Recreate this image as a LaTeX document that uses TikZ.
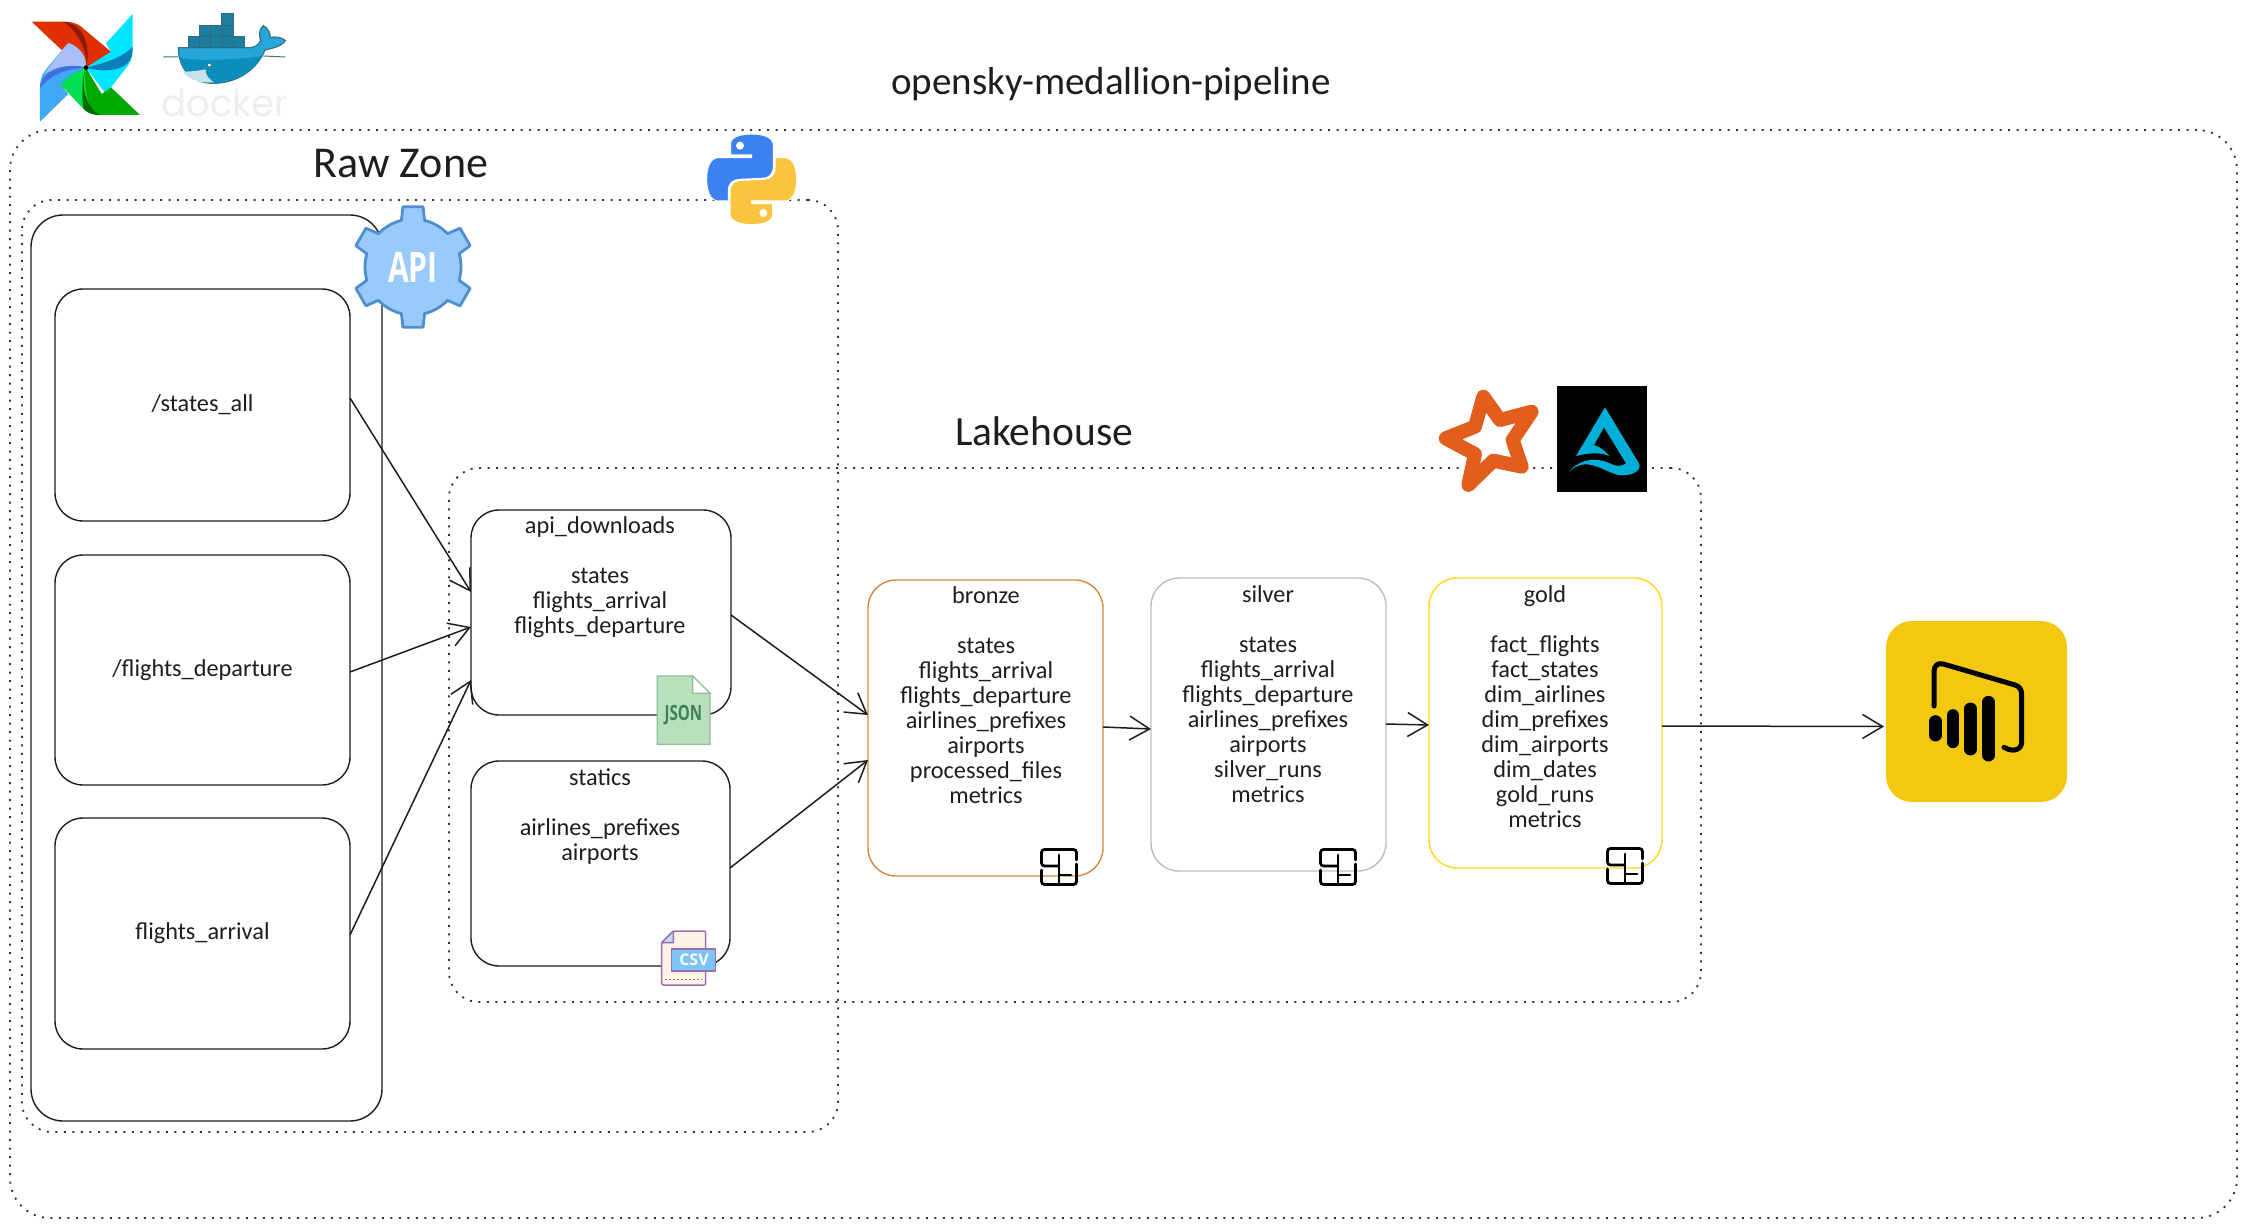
\documentclass[tikz,border=0pt]{standalone}
\usepackage{fontspec}
\usepackage{graphicx}
\setmainfont{Carlito}
\newfontfamily\dockerfont{Poppins}
\newfontfamily\iconfont{Open Sans}
\usetikzlibrary{arrows.meta}
\definecolor{ink}{HTML}{1E1E1E}
\definecolor{dotc}{HTML}{333333}
\definecolor{bronzec}{HTML}{D08A3E}
\definecolor{silverc}{HTML}{BDBDBD}
\definecolor{goldc}{HTML}{FFD91A}
\definecolor{pbic}{HTML}{F2C811}
\definecolor{apifill}{HTML}{99CBFA}
\definecolor{apiline}{HTML}{4F8FCF}
\definecolor{pyblue}{HTML}{3B82F0}
\definecolor{pyyellow}{HTML}{F9C440}
\definecolor{starc}{HTML}{E35E1C}
\definecolor{deltac}{HTML}{00AFD7}
\definecolor{jsonfill}{HTML}{B9E0BC}
\definecolor{jsonline}{HTML}{8FBF9A}
\definecolor{jsontext}{HTML}{3F7F5A}
\definecolor{csvline}{HTML}{9B6FB0}
\definecolor{csvpage}{HTML}{FDF3E7}
\definecolor{csvblue}{HTML}{7CC4F5}
\definecolor{csvcorner}{HTML}{BFDDF5}
\definecolor{afblue}{RGB}{63,169,245}
\definecolor{aflav}{RGB}{169,190,250}
\definecolor{afdblue}{RGB}{63,111,224}
\definecolor{afred}{RGB}{224,47,2}
\definecolor{afdred}{RGB}{138,27,0}
\definecolor{afcyan}{RGB}{0,229,255}
\definecolor{afdcyan}{RGB}{13,127,184}
\definecolor{afgreen}{RGB}{0,168,0}
\definecolor{aflgreen}{RGB}{0,224,80}
\definecolor{afdgreen}{RGB}{0,110,0}
\definecolor{dkline}{RGB}{58,111,132}
\definecolor{dkhull}{RGB}{37,167,217}
\definecolor{dkdeep}{RGB}{13,141,187}
\definecolor{dkbelly}{RGB}{199,227,232}
\definecolor{dkbox}{RGB}{29,127,159}
\definecolor{dkboxl}{RGB}{45,107,130}
\definecolor{dkword}{RGB}{238,238,238}
\tikzset{
  frame/.style={draw=dotc,line width=1.8pt,dash pattern=on 2pt off 6.5pt,rounded corners=30pt,inner sep=0pt,outer sep=0pt},
  box/.style={draw=ink,line width=1.4pt,rounded corners=28pt,inner sep=0pt,outer sep=0pt,font=\fontsize{24.3}{25}\selectfont,text=ink,align=center},
  boxtext/.style={anchor=north,inner sep=0pt,font=\fontsize{24.3}{25}\selectfont,text=ink,align=center},
  heading/.style={inner sep=0pt,text=ink},
  arr/.style={draw=ink,line width=1.5pt,-{Straight Barb[length=20pt,width=24pt,line width=1.5pt]}},
  dkcrate/.style={fill=dkbox,draw=dkboxl,line width=1pt},
  tablepic/.pic={
    \draw[black,line width=2.8pt,rounded corners=3pt,line cap=round]
      (17.5,-7) -- (17.5,-17.5) -- (-17.5,-17.5) -- (-17.5,-1) -- (0,-1);
    \draw[black,line width=2.8pt,rounded corners=3pt,line cap=round]
      (-17.5,3) -- (-17.5,17.5) -- (17.5,17.5) -- (17.5,-3);
    \draw[black,line width=2.8pt,line cap=round] (0,-12) -- (0,17.5) (0,8) -- (12,8);
  }
}
\newcommand{\pysnake}{(152,70) .. controls (152,50) and (185,42) .. (215,42) .. controls (250,42) and (280,52) .. (280,75) -- (280,140) .. controls (280,165) and (265,175) .. (245,175) -- (178,178) .. controls (158,180) and (145,190) .. (145,212) -- (145,243) -- (115,243) .. controls (90,243) and (80,210) .. (80,178) .. controls (80,140) and (92,113) .. (115,113) -- (215,113) -- (215,105) -- (152,105) -- cycle}
\begin{document}
\begin{tikzpicture}[x=1pt,y=-1pt]
\useasboundingbox (0,0) rectangle (2247,1228);
\fill[white] (0,0) rectangle (2247,1228);

% frames
\node[frame,minimum width=2227pt,minimum height=1088pt,rounded corners=40pt] (outer) at (1123.5,674) {};
\node[frame,minimum width=816pt,minimum height=932pt] (rawzone) at (430,666) {};
\node[frame,minimum width=1252pt,minimum height=534pt] (lakehouse) at (1075,735) {};

% headings
\node[heading,font=\fontsize{39}{42}\selectfont] (title) at (1111,84) {opensky-medallion-pipeline};
\node[heading,font=\fontsize{44}{46}\selectfont] (rawtitle) at (401,164) {Raw Zone};
\node[heading,font=\fontsize{41.5}{44}\selectfont] (laketitle) at (1044,431) {Lakehouse};

% boxes
\node[box,minimum width=351pt,minimum height=906pt,rounded corners=32pt] (source) at (206.5,668) {};
\node[box,minimum width=295pt,minimum height=232pt] (e1) at (202.5,405) {/states\_all};
\node[box,minimum width=295pt,minimum height=230pt] (e2) at (202.5,670) {/flights\_departure};
\node[box,minimum width=295pt,minimum height=231pt] (e3) at (202.5,933.5) {flights\_arrival};
\node[box,minimum width=260pt,minimum height=205pt] (api) at (601,612.5) {};
\node[box,minimum width=259pt,minimum height=205pt] (statics) at (600.5,863.5) {};
\node[box,draw=bronzec,minimum width=235pt,minimum height=296pt] (bronze) at (985.5,728) {};
\node[box,draw=silverc,minimum width=235pt,minimum height=293pt] (silver) at (1268.5,724.5) {};
\node[box,draw=goldc,minimum width=233pt,minimum height=290pt] (gold) at (1545.5,723) {};
\node[draw=none,fill=pbic,minimum width=181pt,minimum height=181pt,rounded corners=26pt,inner sep=0pt,outer sep=0pt] (pbi) at (1976.5,711.5) {};

% box texts
\node[boxtext] (apitext) at (600,516.5) {api\_downloads\\[25pt]states\\flights\_arrival\\flights\_departure};
\node[boxtext] (staticstext) at (600,768.5) {statics\\[25pt]airlines\_prefixes\\airports};
\node[boxtext] (bronzetext) at (986,586.5) {bronze\\[25pt]states\\flights\_arrival\\flights\_departure\\airlines\_prefixes\\airports\\processed\_files\\metrics};
\node[boxtext] (silvertext) at (1268,585.5) {silver\\[25pt]states\\flights\_arrival\\flights\_departure\\airlines\_prefixes\\airports\\silver\_runs\\metrics};
\node[boxtext] (goldtext) at (1545,585.5) {gold\\[25pt]fact\_flights\\fact\_states\\dim\_airlines\\dim\_prefixes\\dim\_airports\\dim\_dates\\gold\_runs\\metrics};

% connectors
\draw[arr] ([yshift=7pt]e1.east) -- ([yshift=20.5pt]api.west);
\draw[arr] ([yshift=-2pt]e2.east) -- ([yshift=-14.5pt]api.west);
\draw[arr] ([yshift=-1.5pt]e3.east) -- ([yshift=-67.5pt]api.west);
\draw[arr] ([yshift=-2.5pt]api.east) -- ([yshift=13pt]bronze.west);
\draw[arr] ([yshift=-4.5pt]statics.east) -- ([yshift=-32pt]bronze.west);
\draw[arr] ([yshift=1pt]bronze.east) -- ([yshift=-4.5pt]silver.west);
\draw[arr] ([yshift=0.5pt]silver.east) -- ([yshift=-2pt]gold.west);
\draw[arr] ([yshift=-3pt]gold.east) -- ([yshift=-15pt,xshift=-2pt]pbi.west);

% table icons
\pic at (1059,867) {tablepic};
\pic at (1338,867) {tablepic};
\pic at (1625,866) {tablepic};

% airflow pinwheel
\begin{scope}[scale=1/3]
\fill[afblue] (120,365) -- (120,265) .. controls (120,240) and (125,225) .. (135,212) -- (205,128) -- (258,203) -- (183,255) -- (205,282) -- cycle;
\fill[aflav] (205,128) .. controls (240,135) and (265,170) .. (258,203) .. controls (220,190) and (170,200) .. (132,222) -- cycle;
\fill[afdblue] (120,265) .. controls (120,215) and (190,185) .. (258,203) .. controls (200,205) and (150,225) .. (120,265) -- cycle;
\fill[afred] (95,65) -- (190,65) .. controls (225,65) and (240,75) .. (255,90) -- (333,155) -- (305,190) -- (258,203) .. controls (262,170) and (240,140) .. (205,128) -- (185,150) -- cycle;
\fill[afdred] (190,65) .. controls (245,70) and (275,130) .. (258,203) .. controls (265,150) and (230,90) .. (190,65) -- cycle;
\fill[afcyan] (398,42) -- (398,140) .. controls (400,180) and (385,195) .. (375,208) -- (318,282) -- (258,203) -- (333,155) -- (318,130) -- cycle;
\fill[afdcyan] (398,140) .. controls (365,175) and (310,190) .. (258,203) .. controls (310,218) and (385,215) .. (396,165) -- cycle;
\fill[afgreen] (420,345) -- (300,345) .. controls (270,345) and (255,330) .. (240,315) -- (183,255) .. controls (205,225) and (235,215) .. (258,203) -- (305,282) -- (333,262) -- cycle;
\fill[aflgreen] (183,255) .. controls (205,225) and (235,215) .. (258,203) .. controls (250,250) and (260,300) .. (275,338) .. controls (255,330) and (245,320) .. (240,315) -- cycle;
\fill[afdgreen] (258,203) .. controls (240,260) and (260,325) .. (300,345) .. controls (275,345) and (255,335) .. (250,325) .. controls (245,280) and (245,240) .. (258,203) -- cycle;
\fill[black] (258,203) circle (7);
\end{scope}

% docker
\begin{scope}[scale=1/3]
\draw[dkline,line width=1pt] (490,171) -- (535,171) (790,168) -- (856,171);
\path[fill=dkhull,draw=dkline,line width=1.2pt] (535,143) -- (738,143) .. controls (755,145) and (775,140) .. (782,122) .. controls (775,100) and (780,85) .. (790,77) .. controls (805,85) and (812,100) .. (810,112) .. controls (830,108) and (850,115) .. (856,122) .. controls (845,140) and (815,145) .. (795,150) .. controls (770,210) and (710,250) .. (640,250) .. controls (570,250) and (535,200) .. (535,143) -- cycle;
\fill[dkdeep] (538,172) .. controls (600,185) and (700,180) .. (786,168) .. controls (760,215) and (710,248) .. (640,248) .. controls (575,248) and (545,215) .. (538,172) -- cycle;
\fill[dkbelly] (548,215) .. controls (570,215) and (600,212) .. (617,208) .. controls (615,225) and (630,240) .. (642,247) .. controls (600,250) and (565,240) .. (548,215) -- cycle;
\draw[dkline,line width=.8pt,fill=white] (628,195) circle (6);
\foreach \x in {565,599,633,667,701}
  \draw[dkcrate] (\x,110) rectangle ++(34,33);
\foreach \x in {598,632,666}
  \draw[dkcrate] (\x,77) rectangle ++(34,33);
\draw[dkcrate] (665,42) rectangle ++(35,35);
\end{scope}
\node[inner sep=0pt,text=dkword,font=\dockerfont\fontsize{37}{40}\selectfont] (dockerword) at (225,103) {docker};

% python
\begin{scope}[shift={(680,120)},scale=1/3]
\fill[pyblue,draw=white,line width=1pt] \pysnake;
\fill[white] (180,77) circle (12);
\begin{scope}[rotate around={180:(215,178)}]
\fill[pyyellow,draw=white,line width=1pt] \pysnake;
\fill[white] (180,77) circle (12);
\end{scope}
\end{scope}

% API gear
\begin{scope}[shift={(413,267)}]
\draw[fill=apifill,draw=apiline,line width=2.8pt,line join=round]
  (20.5:61) -- (39.5:61) -- (44:48) arc[start angle=44,end angle=76,radius=48]
  -- (80.5:61) -- (99.5:61) -- (104:48) arc[start angle=104,end angle=136,radius=48]
  -- (140.5:61) -- (159.5:61) -- (164:48) arc[start angle=164,end angle=196,radius=48]
  -- (200.5:61) -- (219.5:61) -- (224:48) arc[start angle=224,end angle=256,radius=48]
  -- (260.5:61) -- (279.5:61) -- (284:48) arc[start angle=284,end angle=316,radius=48]
  -- (320.5:61) -- (339.5:61) -- (344:48) arc[start angle=344,end angle=376,radius=48]
  -- cycle;
\node[inner sep=0pt,text=white,font=\iconfont\bfseries\fontsize{42}{42}\selectfont] (apilabel) at (0,0) {\scalebox{.72}[1]{API}};
\end{scope}

% JSON icon
\begin{scope}[shift={(620,620)},scale=1/3]
\draw[fill=jsonfill,draw=jsonline,line width=1.2pt] (112,168) -- (218,168) -- (270,220) -- (270,373) -- (112,373) -- cycle;
\draw[fill=white,draw=jsonline,line width=1.2pt] (218,168) -- (270,220) -- (218,220) -- cycle;
\node[inner sep=0pt,text=jsontext,font=\iconfont\bfseries\fontsize{21}{21}\selectfont] (jsonlabel) at (190,285) {\scalebox{.72}[1]{JSON}};
\end{scope}

% CSV icon
\begin{scope}[shift={(620,620)},scale=1/3]
\draw[fill=csvpage,draw=csvline,line width=1.5pt,rounded corners=2pt] (160,933) -- (257,933) -- (257,1095) -- (125,1095) -- (125,968) -- cycle;
\draw[fill=csvcorner,draw=csvline,line width=1.5pt,line join=round] (160,933) -- (160,968) -- (125,968) -- cycle;
\draw[fill=csvblue,draw=csvline,line width=1.5pt] (155,987) rectangle (287,1053);
\node[inner sep=0pt,text=white,font=\iconfont\bfseries\fontsize{16}{16}\selectfont] (csvlabel) at (222,1020) {CSV};
\draw[csvline,line width=1.6pt,dash pattern=on 1.6pt off 2.4pt] (135,1078) -- (247,1078);
\end{scope}

% star
\begin{scope}[shift={(1400,370)},scale=1/3]
\draw[starc,line width=14pt,line join=round] (250,80) -- (300,150) -- (395,125) -- (338,210) -- (365,290) -- (280,272) -- (205,345) -- (225,252) -- (137,205) -- (225,170) -- cycle;
\end{scope}

% delta logo
\begin{scope}[shift={(1400,370)},scale=1/3]
\fill[black] (472,47) rectangle (742,365);
\fill[deltac] (615,112) -- (718,282) .. controls (725,305) and (690,320) .. (655,315) .. controls (610,305) and (560,255) .. (508,305) .. controls (540,265) and (590,262) .. (630,280) .. controls (650,290) and (665,290) .. (678,280) -- (612,172) -- (582,225) .. controls (600,230) and (618,245) .. (628,258) .. controls (600,245) and (560,250) .. (528,258) -- cycle;
\end{scope}

% power bi
\begin{scope}[shift={(1860,600)},scale=1/3]
\draw[black,line width=5pt,line cap=round,line join=round] (222,318) -- (222,215) .. controls (222,195) and (235,188) .. (250,192) -- (465,255) .. controls (480,260) and (485,270) .. (485,285) -- (485,425) .. controls (485,450) and (460,458) .. (432,442);
\draw[black,line width=12.3pt,line cap=round] (226.5,364) -- (226.5,406) (278.5,346) -- (278.5,426) (331.5,326) -- (331.5,448) (385.5,306) -- (385.5,466);
\end{scope}
\end{tikzpicture}
\end{document}
